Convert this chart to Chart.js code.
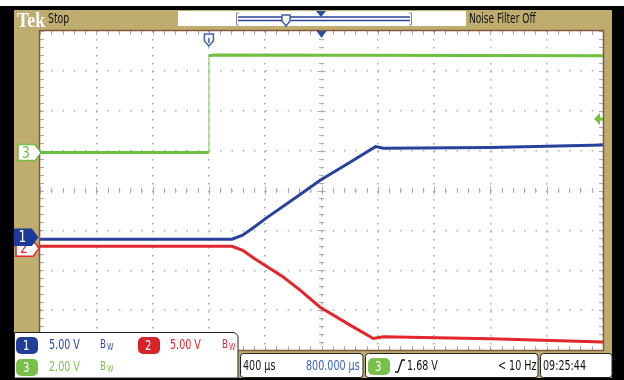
<!DOCTYPE html>
<html>
<head>
<meta charset="utf-8">
<script src="https://cdn.jsdelivr.net/npm/chart.js@4.4.1/dist/chart.umd.min.js"></script>
<style>
  html, body { margin: 0; padding: 0; background: #000; }
  canvas { display: block; }
</style>
</head>
<body>
<canvas id="scope" width="624" height="380"></canvas>
<script>
// Screen is 10 x 8 divisions; all values below are in divisions
const xDivs = 10;
const yDivs = 8;

// CH3 (green, 2 V/div) - enable step
const ch3Time = [0, 3.0, 3.0, 3.1, 10];
const ch3Level = [4.95, 4.95, 7.38, 7.4, 7.38];

// CH1 (blue, 5 V/div) - ramps up
const ch1Time = [0, 3.41, 3.6, 3.8, 4.03, 4.62, 4.97, 5.5, 5.96, 6.1, 8, 10];
const ch1Level = [2.78, 2.78, 2.88, 3.08, 3.32, 3.9, 4.25, 4.7, 5.1, 5.06, 5.08, 5.14];

// CH2 (red, 5 V/div) - ramps down
const ch2Time = [0, 3.41, 3.6, 3.8, 4.32, 4.62, 4.97, 5.5, 5.92, 6.1, 8, 10];
const ch2Level = [2.6, 2.6, 2.5, 2.3, 1.83, 1.5, 1.08, 0.63, 0.29, 0.33, 0.28, 0.2];

// reference markers
const triggerTime = 3.0;
const triggerLevel = 5.79;   // 1.68 V on CH3
const centreTime = 5;
const centreLevel = 4;

const TAN = '#bfad6f';
const GRID = '#a7abbd';
const BLUE = '#27409c';
const RED = '#e3262b';
const GREEN = '#6fbf43';
const FONT = '"DejaVu Sans Condensed", "DejaVu Sans", sans-serif';

const toPoints = (xs, ys) => xs.map((x, i) => ({ x, y: ys[i] }));

function seg(ctx, x1, y1, x2, y2) {
  ctx.beginPath();
  ctx.moveTo(x1, y1);
  ctx.lineTo(x2, y2);
  ctx.stroke();
}

// narrow scope-style text
function label(ctx, str, x, y, color, size = 14, squeeze = 0.76) {
  ctx.save();
  ctx.font = `${size}px ${FONT}`;
  ctx.fillStyle = color;
  ctx.textBaseline = 'middle';
  ctx.translate(x, y);
  ctx.scale(squeeze, 1);
  ctx.fillText(str, 0, 0);
  ctx.restore();
}

function badge(ctx, num, x, y, color) {
  ctx.save();
  ctx.fillStyle = color;
  ctx.beginPath();
  ctx.roundRect(x, y - 8, 22, 17, 5);
  ctx.fill();
  ctx.restore();
  label(ctx, num, x + 7, y + 1, '#fff', 14, 0.8);
}

function bw(ctx, x, y, color) {
  label(ctx, 'B', x, y, color, 12, 0.8);
  label(ctx, 'W', x + 7, y + 3, color, 9, 0.8);
}

function flag(ctx, num, y, fill, stroke, text, x0) {
  ctx.save();
  ctx.beginPath();
  ctx.moveTo(x0, y - 8);
  ctx.lineTo(x0 + 17, y - 8);
  ctx.lineTo(x0 + 23, y);
  ctx.lineTo(x0 + 17, y + 8);
  ctx.lineTo(x0, y + 8);
  ctx.closePath();
  ctx.fillStyle = fill;
  ctx.fill();
  ctx.lineWidth = 1.5;
  ctx.strokeStyle = stroke;
  ctx.stroke();
  ctx.restore();
  label(ctx, num, x0 + 4, y + 1, text, 16, 0.85);
}

function boxPath(ctx, x1, y1, x2, y2, r) {
  ctx.beginPath();
  ctx.roundRect(x1, y1, x2 - x1, y2 - y1, r);
  ctx.fillStyle = '#fff';
  ctx.fill();
  ctx.strokeStyle = '#222';
  ctx.lineWidth = 1;
  ctx.stroke();
}

const scopeFrame = {
  id: 'scopeFrame',
  beforeDraw(chart) {
    const { ctx, chartArea: a } = chart;
    ctx.save();
    ctx.fillStyle = '#000';
    ctx.fillRect(0, 0, 624, 380);
    ctx.fillStyle = '#fff';
    ctx.fillRect(0, 0, 624, 6);
    ctx.fillStyle = TAN;
    ctx.fillRect(14, 10, 598, 368);
    ctx.fillStyle = '#fff';
    ctx.fillRect(a.left, a.top, a.width, a.height);
    ctx.restore();
  },
  beforeDatasetsDraw(chart) {
    const { ctx, chartArea: a, scales: { x, y } } = chart;
    const cx = x.getPixelForValue(centreTime);
    const cy = y.getPixelForValue(centreLevel);
    ctx.save();
    ctx.strokeStyle = GRID;
    ctx.lineWidth = 1;
    for (let i = 0; i <= xDivs * 5; i++) {
      const px = Math.round(x.getPixelForValue(i / 5)) + 0.5;
      const len = i % 5 === 0 ? 4 : 2.5;
      seg(ctx, px, a.top, px, a.top + 4);
      seg(ctx, px, a.bottom - 4, px, a.bottom);
      seg(ctx, px, cy - len, px, cy + len);
    }
    for (let i = 0; i <= yDivs * 5; i++) {
      const py = Math.round(y.getPixelForValue(i / 5)) + 0.5;
      const len = i % 5 === 0 ? 4 : 2.5;
      seg(ctx, a.left, py, a.left + 4, py);
      seg(ctx, a.right - 4, py, a.right, py);
      seg(ctx, cx - len, py, cx + len, py);
    }
    ctx.restore();
  },
  afterDraw(chart) {
    const { ctx, chartArea: a, scales: { x, y } } = chart;
    ctx.save();

    // plot border
    ctx.strokeStyle = '#86583a';
    ctx.lineWidth = 1.5;
    ctx.strokeRect(a.left - 0.5, a.top - 0.5, a.width + 1, a.height + 1);

    // ---- top status bar
    ctx.save();
    ctx.font = 'bold 21px "Liberation Serif", serif';
    ctx.fillStyle = '#fff';
    ctx.textBaseline = 'alphabetic';
    ctx.translate(17, 27);
    ctx.scale(0.85, 1);
    ctx.fillText('Tek', 0, 0);
    ctx.restore();
    label(ctx, 'Stop', 48, 19, '#111', 14, 0.74);

    ctx.fillStyle = '#fff';
    ctx.fillRect(178, 11, 288, 15);
    // record view bar
    ctx.strokeStyle = '#8d8d8d';
    ctx.lineWidth = 1;
    seg(ctx, 236.5, 13, 236.5, 25);
    seg(ctx, 236.5, 13, 239, 13);
    seg(ctx, 236.5, 25, 239, 25);
    seg(ctx, 411.5, 13, 411.5, 25);
    seg(ctx, 409, 13, 411.5, 13);
    seg(ctx, 409, 25, 411.5, 25);
    ctx.strokeStyle = BLUE;
    ctx.lineWidth = 1.5;
    seg(ctx, 238, 17, 410, 17);
    seg(ctx, 238, 20.5, 410, 20.5);
    // trigger pos marker in record bar
    ctx.fillStyle = '#fff';
    ctx.strokeStyle = '#3b5fb0';
    ctx.lineWidth = 1.5;
    ctx.beginPath();
    ctx.moveTo(282, 15); ctx.lineTo(290, 15); ctx.lineTo(290, 21);
    ctx.lineTo(286, 26); ctx.lineTo(282, 21); ctx.closePath();
    ctx.fill(); ctx.stroke();
    ctx.fillStyle = '#2b4fa8';
    ctx.beginPath();
    ctx.moveTo(316, 11); ctx.lineTo(326, 11); ctx.lineTo(321, 17); ctx.closePath();
    ctx.fill();
    label(ctx, 'Noise Filter Off', 469, 19, '#111', 14, 0.72);

    // ---- markers on the graticule
    const tx = x.getPixelForValue(triggerTime);
    ctx.fillStyle = '#fff';
    ctx.strokeStyle = '#3b63b5';
    ctx.lineWidth = 1.5;
    ctx.beginPath();
    ctx.moveTo(tx - 4.5, a.top + 3); ctx.lineTo(tx + 4.5, a.top + 3); ctx.lineTo(tx + 4.5, a.top + 10);
    ctx.lineTo(tx, a.top + 15); ctx.lineTo(tx - 4.5, a.top + 10); ctx.closePath();
    ctx.fill(); ctx.stroke();
    seg(ctx, tx, a.top + 7, tx, a.top + 12);

    const mx = x.getPixelForValue(centreTime);
    ctx.fillStyle = '#2b4fa8';
    ctx.beginPath();
    ctx.moveTo(mx - 5, a.top); ctx.lineTo(mx + 5, a.top); ctx.lineTo(mx, a.top + 7); ctx.closePath();
    ctx.fill();

    // trigger level arrow (right side)
    const ty = y.getPixelForValue(triggerLevel);
    ctx.fillStyle = GREEN;
    ctx.beginPath();
    ctx.moveTo(a.right - 9, ty); ctx.lineTo(a.right - 3, ty - 6); ctx.lineTo(a.right - 3, ty + 6); ctx.closePath();
    ctx.fill();
    ctx.fillRect(a.right - 4, ty - 1.5, 4, 3);

    // channel ground markers (left side)
    flag(ctx, '3', y.getPixelForValue(ch3Level[0]), '#fff', GREEN, GREEN, 18);
    flag(ctx, '2', y.getPixelForValue(ch2Level[0]) + 2, '#fff', RED, RED, 16);
    flag(ctx, '1', y.getPixelForValue(ch1Level[0]) - 2, '#1d3a98', '#1d3a98', '#fff', 14.5);

    // ---- bottom readouts
    boxPath(ctx, 14.5, 332.5, 238, 378, [0, 5, 0, 0]);
    boxPath(ctx, 240.5, 353.5, 363, 377.5, 3);
    boxPath(ctx, 365.5, 353.5, 538, 377.5, 3);
    boxPath(ctx, 540.5, 353.5, 612, 377.5, 3);

    const r1 = 345, r2 = 367;
    badge(ctx, '1', 16, r1, '#1f3f99');
    label(ctx, '5.00 V', 49, r1, '#2a47a8');
    bw(ctx, 100, r1, '#2a47a8');
    badge(ctx, '2', 138, r1, '#d62229');
    label(ctx, '5.00 V', 170, r1, RED);
    bw(ctx, 222, r1, RED);
    badge(ctx, '3', 16, r2, '#78c04a');
    label(ctx, '2.00 V', 49, r2, '#79c24b');
    bw(ctx, 100, r2, '#79c24b');

    const r3 = 366;
    label(ctx, '400 µs', 243, r3, '#111');
    label(ctx, '800.000 µs', 306, r3, '#3a5fc0');
    badge(ctx, '3', 368, r3, '#78c04a');
    ctx.strokeStyle = '#111';
    ctx.lineWidth = 1.3;
    ctx.beginPath();
    ctx.moveTo(395, r3 + 6); ctx.lineTo(398, r3 + 6); ctx.lineTo(402, r3 - 6); ctx.lineTo(405, r3 - 6);
    ctx.stroke();
    label(ctx, '1.68 V', 407, r3, '#111');
    label(ctx, '< 10 Hz', 498, r3, '#111');
    label(ctx, '09:25:44', 543, r3, '#111');

    ctx.restore();
  }
};

new Chart(document.getElementById('scope'), {
  type: 'line',
  data: {
    datasets: [
      {
        label: 'CH3',
        data: toPoints(ch3Time, ch3Level),
        borderColor: GREEN,
        borderWidth: 3,
        pointRadius: 0,
        tension: 0,
        // the fast edge is only a faint thin line on the scope
        segment: {
          borderWidth: c => (c.p0.parsed.x === c.p1.parsed.x ? 1.2 : undefined),
          borderColor: c => (c.p0.parsed.x === c.p1.parsed.x ? '#8fd06a' : undefined)
        }
      },
      {
        label: 'CH1',
        data: toPoints(ch1Time, ch1Level),
        borderColor: BLUE,
        borderWidth: 3,
        pointRadius: 0,
        tension: 0
      },
      {
        label: 'CH2',
        data: toPoints(ch2Time, ch2Level),
        borderColor: RED,
        borderWidth: 3,
        pointRadius: 0,
        tension: 0
      }
    ]
  },
  options: {
    responsive: false,
    animation: false,
    layout: { padding: { left: 40, top: 31, right: 21, bottom: 30 } },
    plugins: {
      legend: { display: false },
      tooltip: { enabled: false }
    },
    scales: {
      x: {
        type: 'linear',
        min: 0,
        max: xDivs,
        ticks: { display: false, stepSize: 1 },
        grid: { color: GRID, lineWidth: 1.5, drawTicks: false },
        border: { display: false, dash: [1.5, 6.5] }
      },
      y: {
        type: 'linear',
        min: 0,
        max: yDivs,
        ticks: { display: false, stepSize: 1 },
        grid: { color: GRID, lineWidth: 1.5, drawTicks: false },
        border: { display: false, dash: [1.5, 9.76] }
      }
    }
  },
  plugins: [scopeFrame]
});
</script>
</body>
</html>
